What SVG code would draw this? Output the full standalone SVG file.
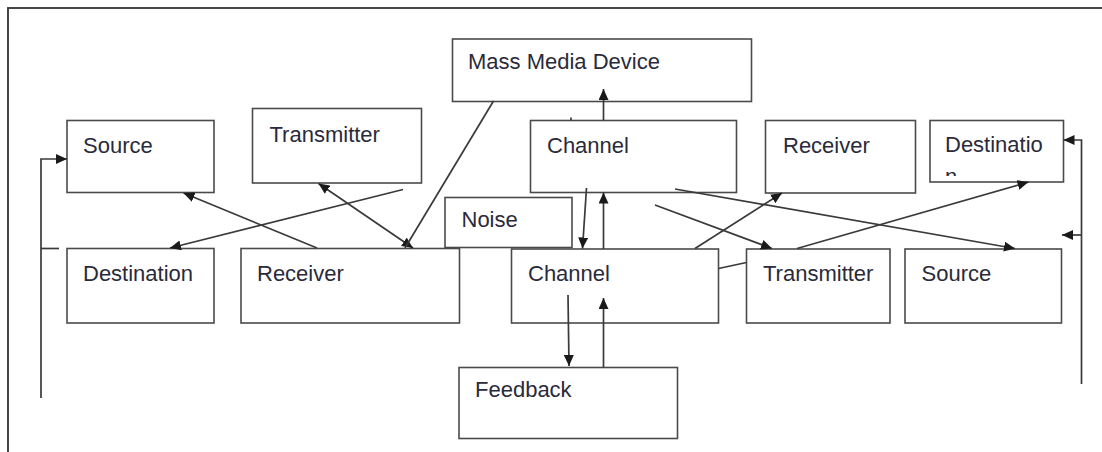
<svg xmlns="http://www.w3.org/2000/svg" width="1102" height="452" viewBox="0 0 1102 452">
  <style>
    .box { fill: #ffffff; stroke: #4a4a4a; stroke-width: 1.6; }
    .lbl { font-family: "Liberation Sans", Arial, sans-serif; font-size: 22px; fill: #2a2a3a; }
    .ln { fill: none; stroke: #3a3a3a; stroke-width: 1.7; }
    .arr { marker-end: url(#ah); }
    .dbl { marker-start: url(#ahs); marker-end: url(#ah); }
  </style>
  <defs>
    <marker id="ah" markerUnits="userSpaceOnUse" markerWidth="12" markerHeight="10" refX="11" refY="5" orient="auto">
      <path d="M0,0 L11,5 L0,10 z" fill="#1a1a1a"/>
    </marker>
    <marker id="ahs" markerUnits="userSpaceOnUse" markerWidth="12" markerHeight="10" refX="11" refY="5" orient="auto-start-reverse">
      <path d="M0,0 L11,5 L0,10 z" fill="#1a1a1a"/>
    </marker>
    <clipPath id="destClip">
      <rect x="931" y="121" width="131" height="55"/>
    </clipPath>
  </defs>

  <rect x="0" y="0" width="1102" height="452" fill="#ffffff"/>
  <rect id="frame" x="8" y="8" width="1200" height="600" fill="none" stroke="#333333" stroke-width="1.8"/>

  <g id="mass-media-device">
    <rect class="box" x="452.5" y="39" width="299" height="62.5"/>
    <text class="lbl" x="468" y="69">Mass Media Device</text>
  </g>
  <g id="source-top">
    <rect class="box" x="67" y="120.5" width="147" height="72"/>
    <text class="lbl" x="83" y="153">Source</text>
  </g>
  <g id="transmitter-top">
    <rect class="box" x="252.5" y="108.5" width="169" height="74.5"/>
    <text class="lbl" x="269.5" y="141.5">Transmitter</text>
  </g>
  <g id="channel-top">
    <rect class="box" x="530.5" y="120.5" width="206" height="72"/>
    <text class="lbl" x="547" y="153">Channel</text>
  </g>
  <g id="receiver-top">
    <rect class="box" x="765.5" y="120.5" width="150" height="72.5"/>
    <text class="lbl" x="783" y="153">Receiver</text>
  </g>
  <g id="destination-top">
    <rect class="box" x="930" y="120.5" width="133.5" height="61.5"/>
    <text class="lbl" x="945" y="151.5">Destinatio</text>
    <text class="lbl" x="945" y="184" clip-path="url(#destClip)">n</text>
  </g>
  <g id="noise">
    <rect class="box" x="445" y="197.5" width="127" height="50"/>
    <text class="lbl" x="461.5" y="227">Noise</text>
  </g>
  <g id="destination-bottom">
    <rect class="box" x="67" y="248.5" width="147" height="74.5"/>
    <text class="lbl" x="83" y="281">Destination</text>
  </g>
  <g id="receiver-bottom">
    <rect class="box" x="241" y="248.5" width="218.5" height="74.5"/>
    <text class="lbl" x="257" y="281">Receiver</text>
  </g>
  <g id="channel-bottom">
    <rect class="box" x="511.5" y="249" width="207" height="74"/>
    <text class="lbl" x="528" y="280.5">Channel</text>
  </g>
  <g id="transmitter-bottom">
    <rect class="box" x="746.5" y="249" width="143.5" height="74"/>
    <text class="lbl" x="763" y="281">Transmitter</text>
  </g>
  <g id="source-bottom">
    <rect class="box" x="905" y="249" width="156.5" height="74"/>
    <text class="lbl" x="921.5" y="281">Source</text>
  </g>
  <g id="feedback">
    <rect class="box" x="459" y="367.5" width="218.5" height="71"/>
    <text class="lbl" x="475" y="397">Feedback</text>
  </g>

  <g id="connectors">
    <!-- left feedback loop -->
    <polyline class="ln arr" points="41,398 41,159 67,159"/>
    <line class="ln" x1="41" y1="248.5" x2="59" y2="248.5"/>
    <!-- right feedback loop -->
    <polyline class="ln arr" points="1081.5,384 1081.5,140 1063.5,140"/>
    <line class="ln arr" x1="1081.5" y1="235" x2="1062" y2="235"/>
    <!-- left crossing lines -->
    <line class="ln arr" x1="317" y1="248" x2="183.5" y2="193"/>
    <line class="ln arr" x1="403" y1="189.5" x2="170" y2="248"/>
    <line class="ln dbl" x1="318.5" y1="183.5" x2="413" y2="248"/>
    <line class="ln" x1="493.5" y1="101" x2="405" y2="248"/>
    <!-- channel top to mass media -->
    <line class="ln arr" x1="603.5" y1="120.5" x2="603.5" y2="89"/>
    <line class="ln" x1="571" y1="117.5" x2="571" y2="120.5"/>
    <!-- between channels -->
    <line class="ln arr" x1="586.5" y1="188" x2="582.5" y2="248.5"/>
    <line class="ln arr" x1="603.5" y1="249" x2="603.5" y2="192.5"/>
    <!-- channel to feedback -->
    <line class="ln arr" x1="568" y1="295" x2="569" y2="366"/>
    <line class="ln arr" x1="603.5" y1="367.5" x2="603.5" y2="298"/>
    <!-- right crossing lines -->
    <line class="ln arr" x1="675" y1="189" x2="1015" y2="248.5"/>
    <line class="ln arr" x1="655" y1="205" x2="772" y2="248.5"/>
    <line class="ln arr" x1="695" y1="248.5" x2="782" y2="193"/>
    <line class="ln arr" x1="797" y1="248.5" x2="1028.5" y2="182"/>
    <line class="ln" x1="718.5" y1="268.5" x2="746.5" y2="262.5"/>
  </g>
</svg>
